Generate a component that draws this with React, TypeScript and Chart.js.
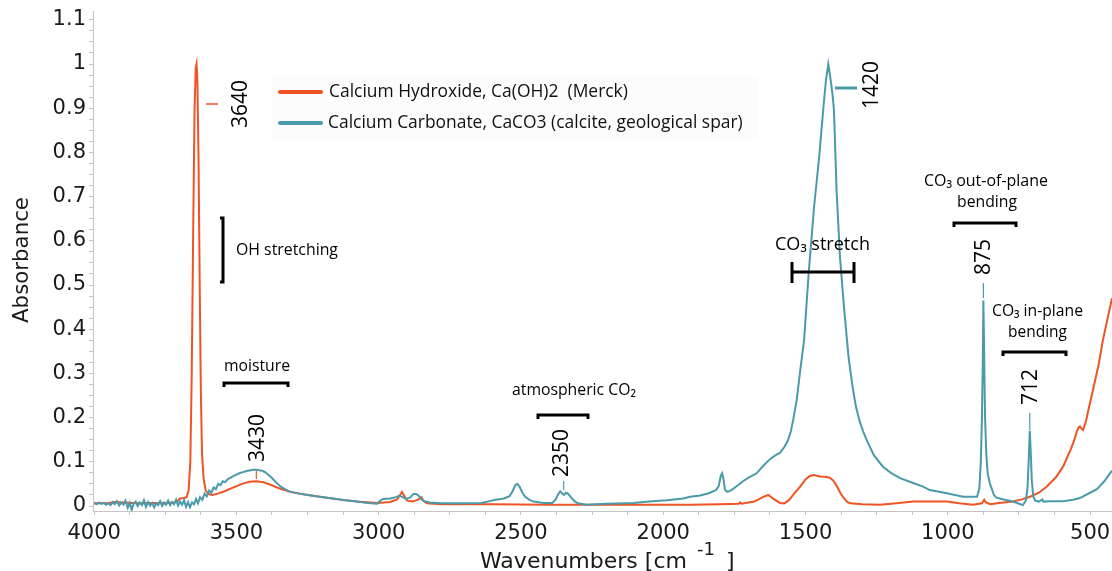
import React, { useEffect, useRef } from 'react';
import { Chart, registerables } from 'chart.js';

Chart.register(...registerables);

// ---------- Data (wavenumber cm-1, absorbance) ----------
const hydroxideLabel = 'Calcium Hydroxide, Ca(OH)2  (Merck)';
const carbonateLabel = 'Calcium Carbonate, CaCO3 (calcite, geological spar)';

const hydroxide: [number, number][] = [
  [4000, 0.006], [3950, 0.007], [3925, 0.009], [3900, 0.008], [3850, 0.006], [3800, 0.007], [3750, 0.006],
  [3720, 0.008], [3705, 0.012], [3698, 0.017], [3685, 0.018], [3675, 0.02], [3668, 0.035], [3662, 0.1],
  [3657, 0.3], [3652, 0.62], [3647, 0.9], [3643, 0.99], [3640, 1.0], [3637, 0.96], [3633, 0.78],
  [3629, 0.5], [3625, 0.26], [3621, 0.12], [3615, 0.06], [3608, 0.035], [3598, 0.027], [3585, 0.025],
  [3565, 0.028], [3540, 0.034], [3510, 0.042], [3480, 0.05], [3455, 0.055], [3430, 0.056], [3405, 0.054],
  [3380, 0.048], [3350, 0.04], [3311, 0.032], [3260, 0.026], [3195, 0.02], [3140, 0.015], [3076, 0.01],
  [3005, 0.007], [2960, 0.009], [2935, 0.015], [2925, 0.025], [2918, 0.032], [2912, 0.025], [2900, 0.012],
  [2880, 0.01], [2860, 0.015], [2850, 0.02], [2843, 0.012], [2830, 0.006], [2780, 0.004], [2600, 0.004],
  [2400, 0.003], [2200, 0.003], [2000, 0.003], [1906, 0.003], [1800, 0.004], [1735, 0.005], [1730, 0.008],
  [1725, 0.005], [1680, 0.01], [1650, 0.02], [1631, 0.025], [1610, 0.015], [1590, 0.007], [1575, 0.006],
  [1560, 0.012], [1540, 0.028], [1519, 0.044], [1500, 0.06], [1485, 0.068], [1470, 0.07], [1450, 0.067],
  [1430, 0.066], [1415, 0.064], [1403, 0.058], [1390, 0.045], [1378, 0.03], [1368, 0.02], [1355, 0.01],
  [1344, 0.006], [1300, 0.004], [1238, 0.003], [1180, 0.006], [1122, 0.01], [1060, 0.01], [1003, 0.01],
  [960, 0.006], [911, 0.003], [880, 0.006], [872, 0.014], [866, 0.008], [850, 0.004], [820, 0.007],
  [771, 0.01], [740, 0.015], [711, 0.021], [680, 0.03], [652, 0.044], [620, 0.065], [595, 0.089],
  [570, 0.125], [555, 0.15], [547, 0.168], [540, 0.178], [536, 0.18], [530, 0.175], [525, 0.172],
  [515, 0.19], [505, 0.22], [490, 0.262], [470, 0.32], [455, 0.375], [440, 0.42], [423, 0.47],
];

const carbonate: [number, number][] = [
  [4000, 0.006], [3990, 0.004], [3982, 0.008], [3975, 0.005], [3966, 0.007], [3958, 0.003], [3950, 0.006],
  [3942, 0.002], [3935, 0.009], [3928, 0.004], [3920, 0.011], [3912, 0.001], [3905, 0.008], [3897, 0.003],
  [3890, 0.012], [3882, -0.004], [3875, 0.007], [3868, -0.009], [3861, 0.006], [3854, 0.01], [3847, 0.0],
  [3840, 0.008], [3832, 0.002], [3825, 0.013], [3818, -0.002], [3810, 0.009], [3803, 0.001], [3796, 0.007],
  [3789, -0.003], [3782, 0.006], [3775, 0.002], [3768, 0.011], [3761, 0.0], [3754, 0.008], [3747, 0.003],
  [3740, 0.012], [3733, 0.002], [3726, 0.009], [3719, 0.004], [3712, 0.014], [3705, 0.001], [3698, 0.01],
  [3691, 0.003], [3684, 0.013], [3677, -0.002], [3670, 0.009], [3663, -0.003], [3656, 0.008], [3649, 0.004],
  [3642, 0.016], [3635, 0.006], [3628, 0.02], [3620, 0.014], [3612, 0.028], [3604, 0.022], [3596, 0.035],
  [3588, 0.03], [3580, 0.042], [3572, 0.038], [3564, 0.05], [3556, 0.047], [3548, 0.056], [3540, 0.054],
  [3530, 0.061], [3520, 0.064], [3510, 0.068], [3500, 0.071], [3490, 0.074], [3480, 0.076], [3470, 0.078],
  [3460, 0.08], [3450, 0.081], [3440, 0.082], [3430, 0.082], [3420, 0.081], [3410, 0.08], [3400, 0.077],
  [3390, 0.072], [3380, 0.066], [3370, 0.06], [3360, 0.053], [3350, 0.047], [3340, 0.042], [3330, 0.038],
  [3310, 0.032], [3280, 0.028], [3250, 0.025], [3220, 0.022], [3195, 0.02], [3160, 0.017], [3120, 0.013],
  [3076, 0.01], [3040, 0.007], [3005, 0.005], [2995, 0.012], [2985, 0.016], [2960, 0.017], [2940, 0.02],
  [2928, 0.023], [2918, 0.021], [2905, 0.016], [2890, 0.019], [2878, 0.027], [2868, 0.027], [2858, 0.022],
  [2850, 0.015], [2840, 0.011], [2820, 0.008], [2780, 0.006], [2700, 0.006], [2640, 0.007], [2610, 0.011],
  [2590, 0.014], [2560, 0.017], [2540, 0.022], [2530, 0.033], [2520, 0.047], [2513, 0.05], [2505, 0.044],
  [2495, 0.03], [2485, 0.021], [2470, 0.014], [2455, 0.01], [2420, 0.007], [2390, 0.007], [2378, 0.015],
  [2370, 0.026], [2362, 0.033], [2355, 0.028], [2349, 0.025], [2342, 0.03], [2335, 0.028], [2325, 0.02],
  [2312, 0.011], [2300, 0.006], [2270, 0.003], [2200, 0.005], [2105, 0.007], [2050, 0.01], [1987, 0.013],
  [1930, 0.017], [1906, 0.021], [1870, 0.024], [1840, 0.029], [1815, 0.036], [1805, 0.045], [1798, 0.068],
  [1793, 0.074], [1788, 0.06], [1783, 0.037], [1775, 0.032], [1760, 0.036], [1740, 0.046], [1720, 0.056],
  [1700, 0.064], [1672, 0.074], [1650, 0.09], [1625, 0.106], [1605, 0.115], [1590, 0.12], [1575, 0.133],
  [1562, 0.148], [1552, 0.168], [1543, 0.196], [1531, 0.24], [1518, 0.31], [1505, 0.376], [1489, 0.527],
  [1470, 0.677], [1452, 0.79], [1437, 0.903], [1428, 0.965], [1420, 1.0], [1413, 0.97], [1405, 0.93],
  [1400, 0.895], [1391, 0.715], [1379, 0.564], [1365, 0.451], [1349, 0.338], [1336, 0.275], [1323, 0.225],
  [1310, 0.192], [1297, 0.168], [1285, 0.149], [1260, 0.115], [1228, 0.089], [1200, 0.075], [1168, 0.063],
  [1122, 0.052], [1087, 0.044], [1063, 0.036], [1003, 0.029], [946, 0.021], [897, 0.021], [889, 0.04],
  [884, 0.1], [880, 0.2], [877, 0.33], [875, 0.465], [872, 0.33], [869, 0.2], [865, 0.12], [860, 0.075],
  [852, 0.05], [846, 0.04], [838, 0.025], [829, 0.019], [800, 0.014], [771, 0.01], [745, 0.004],
  [736, 0.002], [726, 0.012], [720, 0.04], [716, 0.1], [712, 0.17], [709, 0.13], [705, 0.06], [700, 0.022],
  [693, 0.012], [680, 0.01], [668, 0.015], [664, 0.01], [640, 0.011], [595, 0.011], [560, 0.014],
  [536, 0.018], [500, 0.03], [476, 0.038], [450, 0.056], [423, 0.08],
];

const xMajorTicks = [4000, 3500, 3000, 2500, 2000, 1500, 1000, 500];
const yMajorTicks = [0, 0.1, 0.2, 0.3, 0.4, 0.5, 0.6, 0.7, 0.8, 0.9, 1, 1.1];
const yTickLabels = ['0', '0.1', '0.2', '0.3', '0.4', '0.5', '0.6', '0.7', '0.8', '0.9', '1', '1.1'];
const xMinorStep = 125;
const yMinorStep = 0.025;

const ORANGE = '#F05324';
const TEAL = '#4A9AA9';
const AXIS_FONT = "'DejaVu Sans', Verdana, sans-serif";
const NOTE_FONT = "'Open Sans', 'Noto Sans', sans-serif";

function sizeFor(ctx: CanvasRenderingContext2D, text: string, family: string, target: number) {
  ctx.font = `100px ${family}`;
  const w = ctx.measureText(text).width;
  return (100 * target) / w;
}

function fitText(ctx: CanvasRenderingContext2D, text: string, x: number, y: number, target: number, family: string, align: CanvasTextAlign = 'left') {
  const s = sizeFor(ctx, text, family, target);
  ctx.font = `${s.toFixed(2)}px ${family}`;
  ctx.textAlign = align;
  ctx.textBaseline = 'middle';
  ctx.fillText(text, x, y);
}

function rotText(ctx: CanvasRenderingContext2D, text: string, cx: number, cy: number, size: number, family: string) {
  ctx.save();
  ctx.translate(cx, cy);
  ctx.rotate(-Math.PI / 2);
  ctx.font = `${size}px ${family}`;
  ctx.textAlign = 'center';
  ctx.textBaseline = 'middle';
  ctx.fillText(text, 0, 1);
  ctx.restore();
}

function line(ctx: CanvasRenderingContext2D, pts: number[][], color: string, w: number, cap: CanvasLineCap = 'butt') {
  ctx.beginPath();
  ctx.moveTo(pts[0][0], pts[0][1]);
  for (let i = 1; i < pts.length; i++) ctx.lineTo(pts[i][0], pts[i][1]);
  ctx.strokeStyle = color;
  ctx.lineWidth = w;
  ctx.lineCap = cap;
  ctx.lineJoin = 'miter';
  ctx.stroke();
}

function bracketDown(ctx: CanvasRenderingContext2D, x1: number, x2: number, y: number) {
  line(ctx, [[x1, y + 4], [x1, y], [x2, y], [x2, y + 4]], '#000', 3);
}

const annotationPlugin = {
  id: 'ftirAnnotations',
  afterDraw(chart: any) {
    const ctx: CanvasRenderingContext2D = chart.ctx;
    const xs = chart.scales.x;
    ctx.save();

    // Axis titles
    ctx.fillStyle = '#1a1a1a';
    const tSize = sizeFor(ctx, 'Wavenumbers [cm', AXIS_FONT, 207);
    ctx.font = `${tSize.toFixed(2)}px ${AXIS_FONT}`;
    ctx.textAlign = 'left';
    ctx.textBaseline = 'alphabetic';
    ctx.fillText('Wavenumbers [cm', 480, 568);
    ctx.fillText(']', 726, 568);
    ctx.font = `18px ${AXIS_FONT}`;
    ctx.fillText('-1', 697, 555);

    ctx.save();
    ctx.translate(28, 260);
    ctx.rotate(-Math.PI / 2);
    const ySize = sizeFor(ctx, 'Absorbance', AXIS_FONT, 126);
    ctx.font = `${ySize.toFixed(2)}px ${AXIS_FONT}`;
    ctx.textAlign = 'center';
    ctx.textBaseline = 'alphabetic';
    ctx.fillText('Absorbance', 0, 0);
    ctx.restore();

    // Legend
    ctx.fillStyle = 'rgba(0,0,0,0.01)';
    ctx.fillRect(272, 77, 486, 62);
    line(ctx, [[280, 92], [321, 92]], ORANGE, 4, 'round');
    line(ctx, [[280, 123], [321, 123]], TEAL, 4, 'round');
    ctx.fillStyle = '#111';
    fitText(ctx, hydroxideLabel, 329, 92, 299, NOTE_FONT);
    fitText(ctx, carbonateLabel, 328, 123, 415, NOTE_FONT);

    // Peak labels (rotated)
    const numSize = sizeFor(ctx, '3640', NOTE_FONT, 48);
    ctx.fillStyle = '#000';
    rotText(ctx, '3640', 240, 104, numSize, NOTE_FONT);
    rotText(ctx, '1420', 871.5, 85, numSize, NOTE_FONT);
    rotText(ctx, '3430', 257, 438, numSize, NOTE_FONT);
    rotText(ctx, '2350', 561.5, 453, numSize, NOTE_FONT);
    rotText(ctx, '875', 983.5, 257, numSize, NOTE_FONT);
    rotText(ctx, '712', 1030, 387, numSize, NOTE_FONT);

    // Peak markers
    line(ctx, [[206, 104], [218, 104]], ORANGE, 1.5);
    line(ctx, [[835, 88], [857, 88]], TEAL, 3);
    const p3430 = xs.getPixelForValue(3430);
    line(ctx, [[p3430, 471], [p3430, 479]], ORANGE, 1.2);
    const p2350 = xs.getPixelForValue(2350);
    line(ctx, [[p2350, 481], [p2350, 490]], TEAL, 1.2);
    const p875 = xs.getPixelForValue(875);
    line(ctx, [[p875, 283], [p875, 298]], TEAL, 1.2);
    const p712 = xs.getPixelForValue(712);
    line(ctx, [[p712, 413], [p712, 430]], TEAL, 1.2);

    // Band annotations
    ctx.fillStyle = '#000';
    fitText(ctx, 'OH stretching', 236, 250, 102, NOTE_FONT);
    line(ctx, [[220, 218], [223, 218], [223, 282], [220, 282]], '#000', 3);

    fitText(ctx, 'moisture', 224, 367, 66, NOTE_FONT);
    bracketDown(ctx, 224, 288, 383);

    fitText(ctx, 'atmospheric CO\u2082', 512, 390, 124, NOTE_FONT);
    bracketDown(ctx, 538, 588, 415);

    fitText(ctx, 'CO\u2083 stretch', 775, 245, 95, NOTE_FONT);
    line(ctx, [[792, 272], [854, 272]], '#000', 3);
    line(ctx, [[792, 262], [792, 283]], '#000', 3);
    line(ctx, [[854, 262], [854, 283]], '#000', 3);

    fitText(ctx, 'CO\u2083 out-of-plane', 924, 181, 124, NOTE_FONT);
    fitText(ctx, 'bending', 987, 203, 60, NOTE_FONT, 'center');
    bracketDown(ctx, 954, 1016, 223);

    fitText(ctx, 'CO\u2083 in-plane', 992, 312, 91, NOTE_FONT);
    fitText(ctx, 'bending', 1037.5, 333, 59, NOTE_FONT, 'center');
    bracketDown(ctx, 1003, 1066, 352);

    ctx.restore();
  },
};

function isMajor(list: number[], v: number) {
  return list.findIndex((t) => Math.abs(t - v) < 1e-6);
}

export default function App() {
  const ref = useRef<HTMLCanvasElement>(null);

  useEffect(() => {
    document.body.style.margin = '0';
    const canvas = ref.current!;
    const chart = new Chart(canvas, {
      type: 'line',
      data: {
        datasets: [
          {
            label: carbonateLabel,
            data: carbonate.map(([x, y]) => ({ x, y })),
            borderColor: TEAL,
            borderWidth: 2,
            pointRadius: 0,
            tension: 0,
            fill: false,
          },
          {
            label: hydroxideLabel,
            data: hydroxide.map(([x, y]) => ({ x, y })),
            borderColor: ORANGE,
            borderWidth: 2,
            pointRadius: 0,
            tension: 0,
            fill: false,
          },
        ],
      },
      options: {
        responsive: false,
        animation: false,
        devicePixelRatio: 1,
        layout: { padding: { top: 11, left: 0, right: 0, bottom: 0 } },
        plugins: { legend: { display: false }, tooltip: { enabled: false } },
        scales: {
          x: {
            type: 'linear',
            reverse: true,
            min: 423,
            max: 4004,
            afterBuildTicks: (s: any) => {
              const t = [];
              for (let v = 500; v <= 4000; v += xMinorStep) t.push({ value: v });
              s.ticks = t;
            },
            afterFit: (s: any) => {
              s.height = 60;
              s.paddingLeft = 0;
              s.paddingRight = 0;
            },
            ticks: {
              autoSkip: false,
              maxRotation: 0,
              minRotation: 0,
              padding: 6,
              color: '#1a1a1a',
              font: { family: AXIS_FONT, size: 21 },
              callback: (v: any) => (isMajor(xMajorTicks, Number(v)) >= 0 ? String(v) : ''),
            },
            grid: { drawOnChartArea: false, drawTicks: true, tickLength: 4, color: '#c4c4c4' },
            border: { color: '#c4c4c4', width: 1 },
          },
          y: {
            type: 'linear',
            min: -0.0113,
            max: 1.12,
            afterBuildTicks: (s: any) => {
              const t = [];
              for (let i = 0; i * yMinorStep <= 1.1 + 1e-9; i++) t.push({ value: Math.round(i * yMinorStep * 1000) / 1000 });
              s.ticks = t;
            },
            afterFit: (s: any) => {
              s.width = 93;
              s.paddingTop = 0;
              s.paddingBottom = 0;
            },
            ticks: {
              autoSkip: false,
              padding: 3,
              color: '#1a1a1a',
              font: { family: AXIS_FONT, size: 21 },
              callback: (v: any) => {
                const i = isMajor(yMajorTicks, Number(v));
                return i >= 0 ? yTickLabels[i] : '';
              },
            },
            grid: { drawOnChartArea: false, drawTicks: true, tickLength: 4, color: '#c4c4c4' },
            border: { color: '#c4c4c4', width: 1 },
          },
        },
      },
      plugins: [annotationPlugin],
    } as any);
    return () => chart.destroy();
  }, []);

  return (
    <div style={{ position: 'fixed', left: 0, top: 0, width: 1112, height: 571, background: '#fff' }}>
      <canvas ref={ref} width={1112} height={571} style={{ display: 'block', width: 1112, height: 571 }} />
    </div>
  );
}
